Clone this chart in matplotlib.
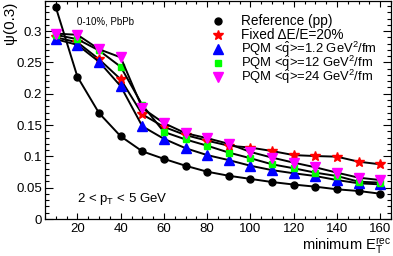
import matplotlib
matplotlib.use("Agg")
import matplotlib.pyplot as plt
from matplotlib.ticker import MultipleLocator, FuncFormatter

plt.rcParams["font.family"] = ["Liberation Sans", "DejaVu Sans"]
plt.rcParams["mathtext.fontset"] = "custom"
plt.rcParams["mathtext.rm"] = "Liberation Sans"
plt.rcParams["mathtext.it"] = "Liberation Sans:italic"

# minimum E_T^rec values
et_min = [10, 20, 30, 40, 50, 60, 70, 80, 90, 100, 110, 120, 130, 140, 150, 160]

psi_ref   = [0.338, 0.227, 0.169, 0.132, 0.108, 0.096, 0.085, 0.0755, 0.069, 0.064,
             0.059, 0.055, 0.0516, 0.0474, 0.0447, 0.0404]
psi_fixed = [0.290, 0.282, 0.255, 0.223, 0.167, 0.147, 0.134, 0.125, 0.117, 0.114,
             0.1085, 0.102, 0.1005, 0.0995, 0.0915, 0.0873]
psi_q1    = [0.287, 0.278, 0.251, 0.212, 0.148, 0.128, 0.113, 0.102, 0.094, 0.085,
             0.078, 0.073, 0.0686, 0.0622, 0.057, 0.0553]
psi_q12   = [0.294, 0.287, 0.269, 0.243, 0.182, 0.139, 0.127, 0.117, 0.106, 0.097,
             0.0873, 0.081, 0.074, 0.0686, 0.0596, 0.058]
psi_q24   = [0.296, 0.294, 0.271, 0.258, 0.177, 0.153, 0.137, 0.129, 0.120, 0.107,
             0.098, 0.090, 0.0825, 0.074, 0.066, 0.0622]

labels = ["Reference (pp)",
          "Fixed \u0394E/E=20%",
          r"PQM <$\hat{\mathrm{q}}$>=1.2 GeV$^2$/fm",
          r"PQM <$\hat{\mathrm{q}}$>=12 GeV$^2$/fm",
          r"PQM <$\hat{\mathrm{q}}$>=24 GeV$^2$/fm"]
label_sizes = [9.8, 9.8, 9.4, 9.4, 9.4]

fig = plt.figure(figsize=(3.93, 2.56), dpi=100)
ax = fig.add_axes([45 / 393, 37 / 256, 346 / 393, 218 / 256])

series = [
    (psi_ref,   "o", "black",   5.0),
    (psi_fixed, "*", "#ff0000", 7.5),
    (psi_q1,    "^", "#0000ff", 6.5),
    (psi_q12,   "s", "#00ff00", 5.0),
    (psi_q24,   "v", "#ff00ff", 6.5),
]

for i, (y, mk, col, ms) in enumerate(series):
    ax.plot(et_min, y, "-", color="black", lw=1.4, zorder=2 + 2 * i)
    ax.plot(et_min, y, linestyle="none", marker=mk, color=col, mec=col,
            ms=ms, zorder=3 + 2 * i)

ax.set_xlim(5, 165)
ax.set_ylim(0, 0.348)
ax.xaxis.set_major_locator(MultipleLocator(20))
ax.xaxis.set_minor_locator(MultipleLocator(5))
ax.yaxis.set_major_locator(MultipleLocator(0.05))
ax.yaxis.set_minor_locator(MultipleLocator(0.01))
ax.yaxis.set_major_formatter(FuncFormatter(lambda v, p: "%g" % round(v, 3)))
ax.xaxis.set_major_formatter(FuncFormatter(lambda v, p: "%g" % v if v >= 20 else ""))

ax.tick_params(which="both", direction="in", top=True, right=True, labelsize=9.5, width=0.8)
ax.tick_params(axis="x", which="major", length=4.5, pad=3)
ax.tick_params(axis="x", which="minor", length=2.3)
ax.tick_params(axis="y", which="major", length=5.5, pad=2)
ax.tick_params(axis="y", which="minor", length=2.7)
for s in ax.spines.values():
    s.set_linewidth(0.9)

ax.set_ylabel("\u03c8(0.3)", fontsize=11)
ax.yaxis.set_label_coords(-0.1, 0.997)
ax.yaxis.label.set_ha("right")
ax.yaxis.label.set_va("center")
ax.set_xlabel(r"minimum E$_{\mathrm{T}}^{\mathrm{rec}}$", fontsize=10.5, loc="right", labelpad=0.5)

ax.text(0.093, 0.908, "0-10%, PbPb", transform=ax.transAxes, fontsize=7, va="center")
ax.text(0.093, 0.09, r"2 < p$_{\mathrm{T}}$ < 5 GeV", transform=ax.transAxes, fontsize=9.5, va="center")

# ROOT-style legend: markers only, fixed row pitch (done by hand so the
# mathtext rows don't get taller than the plain ones)
leg_x_mark, leg_x_text = 0.50, 0.566
row_top, row_step = 0.9095, 0.0642
for i, (y, mk, col, ms) in enumerate(series):
    ry = row_top - i * row_step
    ax.plot([leg_x_mark], [ry], transform=ax.transAxes, linestyle="none", marker=mk,
            color=col, mec=col, ms=ms, clip_on=False, zorder=20)
    ax.text(leg_x_text, ry - 0.021, labels[i], transform=ax.transAxes, fontsize=label_sizes[i],
            va="baseline", ha="left", zorder=20)

fig.savefig("out.png", dpi=100)
